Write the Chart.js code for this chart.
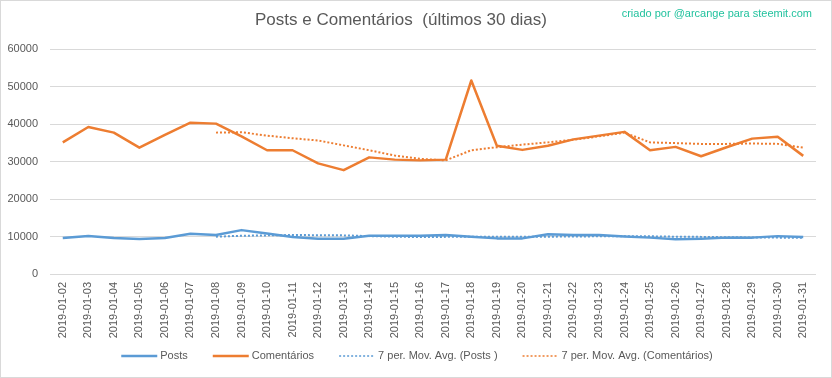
<!DOCTYPE html>
<html>
<head>
<meta charset="utf-8">
<script src="https://cdn.jsdelivr.net/npm/chart.js@4/dist/chart.umd.min.js"></script>
<style>
  html, body { margin: 0; padding: 0; background: #fff; }
  #wrap { width: 832px; height: 378px; }
</style>
</head>
<body>
<div id="wrap"><canvas id="chart" width="832" height="378"></canvas></div>
<script>
// datas
const labels = [
  '2019-01-02', '2019-01-03', '2019-01-04', '2019-01-05', '2019-01-06',
  '2019-01-07', '2019-01-08', '2019-01-09', '2019-01-10', '2019-01-11',
  '2019-01-12', '2019-01-13', '2019-01-14', '2019-01-15', '2019-01-16',
  '2019-01-17', '2019-01-18', '2019-01-19', '2019-01-20', '2019-01-21',
  '2019-01-22', '2019-01-23', '2019-01-24', '2019-01-25', '2019-01-26',
  '2019-01-27', '2019-01-28', '2019-01-29', '2019-01-30', '2019-01-31',
];
const posts = [
  9600, 10130, 9600, 9340, 9600, 10750, 10400, 11700, 10800, 9870,
  9430, 9430, 10200, 10200, 10200, 10400, 9950, 9500, 9500, 10600,
  10400, 10400, 10000, 9700, 9250, 9430, 9700, 9700, 10100, 9870,
];
const comentarios = [
  35100, 39200, 37700, 33700, 37100, 40350, 40100, 36700, 33000, 33000,
  29500, 27700, 31100, 30500, 30300, 30500, 51600, 34200, 33100, 34200,
  35900, 36900, 37900, 33000, 33900, 31400, 33800, 36100, 36600, 31500,
];
// média móvel 7 períodos, começa no 7º dia
const mediaPosts = [
  null, null, null, null, null, null,
  9950, 10200, 10300, 10400, 10350, 10300, 10100, 9950, 9850, 9900,
  9950, 9950, 9900, 9950, 10000, 10050, 10100, 10050, 9950, 9900,
  9800, 9750, 9700, 9650,
];
const mediaComentarios = [
  null, null, null, null, null, null,
  37700, 37800, 36900, 36200, 35600, 34300, 33000, 31600, 30700, 30300,
  33000, 33800, 34500, 35100, 35800, 36700, 37700, 35100, 34900, 34700,
  34700, 34800, 34700, 33700,
];
const yTicks = [0, 10000, 20000, 30000, 40000, 50000, 60000];

const titulo = 'Posts e Comentários  (últimos 30 dias)';
const marca = 'criado por @arcange para steemit.com';
const legendas = ['Posts', 'Comentários', '7 per. Mov. Avg. (Posts )', '7 per. Mov. Avg. (Comentários)'];

const AZUL = '#5B9BD5';
const LARANJA = '#ED7D31';
const CINZA = '#595959';
const FONTE = '"Liberation Sans", Arial, sans-serif';

const ctx = document.getElementById('chart');

new Chart(ctx, {
  type: 'line',
  data: {
    labels: labels,
    datasets: [
      { label: legendas[0], data: posts, borderColor: AZUL, borderWidth: 2.5 },
      { label: legendas[1], data: comentarios, borderColor: LARANJA, borderWidth: 2.5 },
      { label: legendas[2], data: mediaPosts, borderColor: AZUL, borderWidth: 2, borderDash: [2, 2] },
      { label: legendas[3], data: mediaComentarios, borderColor: LARANJA, borderWidth: 2, borderDash: [2, 2] },
    ],
  },
  options: {
    responsive: false,
    animation: false,
    events: [],
    layout: { padding: { top: 49, right: 16, bottom: 33, left: 0 } },
    elements: {
      point: { radius: 0 },
      line: { tension: 0, fill: false, borderCapStyle: 'butt', borderJoinStyle: 'round' },
    },
    plugins: {
      legend: { display: false },
      title: { display: false },
      tooltip: { enabled: false },
      extras: { display: true },
    },
    scales: {
      x: {
        offset: true,
        grid: { display: false, drawTicks: false },
        border: { display: false },
        ticks: {
          autoSkip: false,
          minRotation: 90,
          maxRotation: 90,
          padding: 8,
          color: CINZA,
          font: { family: FONTE, size: 11 },
        },
        afterFit(scale) { scale.height = 71; },
      },
      y: {
        min: 0,
        max: 60000,
        afterBuildTicks(scale) { scale.ticks = yTicks.map(v => ({ value: v })); },
        grid: { color: '#D9D9D9', lineWidth: 1, drawTicks: false },
        border: { display: false },
        ticks: {
          padding: 12,
          color: CINZA,
          font: { family: FONTE, size: 11 },
          callback: (v) => String(v),
        },
        afterFit(scale) { scale.width = 50; },
      },
    },
  },
  plugins: [
    {
      id: 'extras',
      afterDraw(chart) {
        const opts = chart.options.plugins.extras;
        if (!opts || !opts.display) return;
        const c = chart.ctx;
        c.save();

        // moldura
        c.strokeStyle = '#D9D9D9';
        c.lineWidth = 1;
        c.strokeRect(0.5, 0.5, chart.width - 1, chart.height - 1);

        // título
        c.fillStyle = CINZA;
        c.textBaseline = 'middle';
        c.textAlign = 'center';
        c.font = '17px ' + FONTE;
        c.fillText(titulo, 401, 20);

        // marca
        c.fillStyle = '#22C29E';
        c.textAlign = 'right';
        c.font = '11px ' + FONTE;
        c.fillText(marca, 812, 14);

        // legenda
        const ds = chart.data.datasets;
        c.font = '11px ' + FONTE;
        c.textAlign = 'left';
        const linha = 36, vao = 3, entre = 25;
        const larg = ds.map(d => linha + vao + c.measureText(d.label).width);
        const total = larg.reduce((a, b) => a + b, 0) + entre * (ds.length - 1);
        let x = 417 - total / 2;
        const y = 356;
        ds.forEach((d, i) => {
          c.beginPath();
          c.strokeStyle = d.borderColor;
          c.lineWidth = d.borderDash ? 1.5 : 2.5;
          c.setLineDash(d.borderDash ? [2, 2] : []);
          c.moveTo(x, y);
          c.lineTo(x + linha, y);
          c.stroke();
          c.setLineDash([]);
          c.fillStyle = CINZA;
          c.fillText(d.label, x + linha + vao, y);
          x += larg[i] + entre;
        });

        c.restore();
      },
    },
  ],
});
</script>
</body>
</html>
